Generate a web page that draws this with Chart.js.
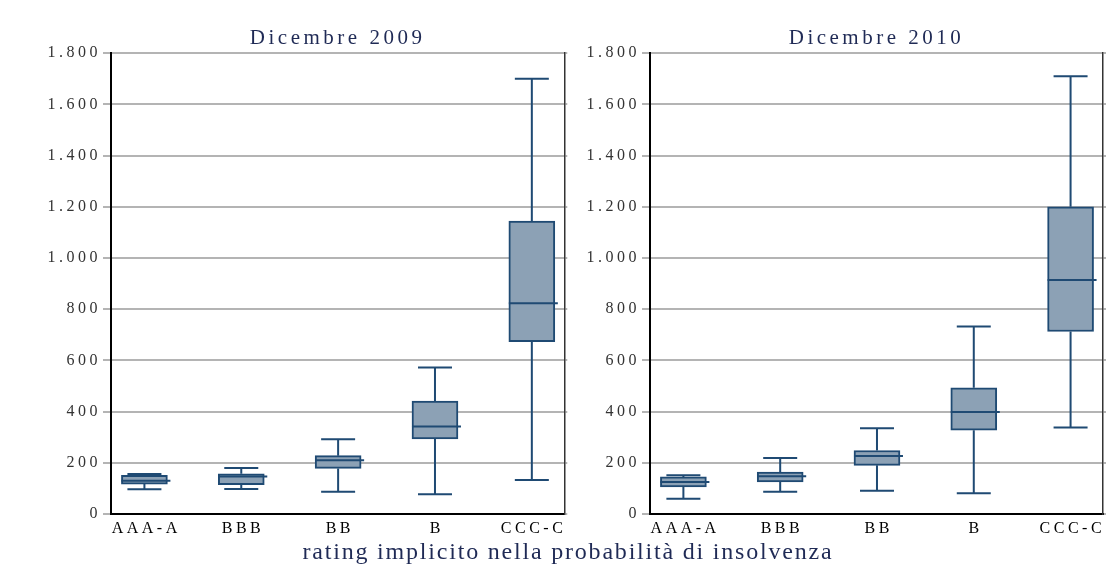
<!DOCTYPE html>
<html>
<head>
<meta charset="utf-8">
<script src="https://cdn.jsdelivr.net/npm/chart.js@4"></script>
<style>
  body { margin: 0; background: #fff; width: 1110px; height: 570px; position: relative; overflow: hidden; }
  #c1 { position: absolute; left: 0; top: 0; width: 570px; height: 545px; }
  #c2 { position: absolute; left: 570px; top: 0; width: 540px; height: 545px; }
  #xtitle {
    position: absolute; left: 0; top: 539px; width: 1136px; text-align: center;
    font: 24px/1 "Liberation Serif", "Times New Roman", serif; letter-spacing: 1.8px;
    color: #1f2a55; white-space: nowrap;
  }
</style>
</head>
<body>
<canvas id="c1" width="570" height="545"></canvas>
<canvas id="c2" width="540" height="545"></canvas>
<div id="xtitle">rating implicito nella probabilità di insolvenza</div>
<script>
// categories and tick labels
const categories = ["AAA-A", "BBB", "BB", "B", "CCC-C"];
const yTicks = [0, 200, 400, 600, 800, 1000, 1200, 1400, 1600, 1800];
const yTickLabels = ["0", "200", "400", "600", "800", "1.000", "1.200", "1.400", "1.600", "1.800"];

// Dicembre 2009 (whisker low, q1, median, q3, whisker high)
const min2009 = [97, 98, 87, 77, 133];
const q1_2009 = [117, 115, 178, 293, 673];
const med2009 = [130, 146, 210, 342, 823];
const q3_2009 = [151, 157, 228, 441, 1144];
const max2009 = [156, 180, 292, 572, 1700];

// Dicembre 2010
const min2010 = [60, 87, 91, 81, 338];
const q1_2010 = [106, 125, 190, 327, 713];
const med2010 = [125, 147, 227, 398, 914];
const q3_2010 = [145, 164, 248, 493, 1200];
const max2010 = [151, 219, 335, 732, 1710];

const navy = "#1f4a73";
const boxFill = "#8ca1b5";
const gridGray = "#b4b4b4";
const serif = "'Liberation Serif', 'Times New Roman', serif";

function makeChart(id, title, lo, q1, med, q3, hi, leftW, rightW) {
  // whiskers, caps and medians drawn through the chart's own scales
  const boxPlot = {
    id: "boxPlot",
    beforeUpdate(chart) { chart.ctx.letterSpacing = "3.5px"; },
    beforeDraw(chart) { chart.ctx.letterSpacing = "3.5px"; },
    beforeDatasetsDraw(chart) {
      const { ctx, scales: { x, y } } = chart;
      ctx.save();
      ctx.strokeStyle = navy;
      ctx.lineWidth = 2;
      categories.forEach((c, i) => {
        const cx = x.getPixelForValue(i);
        const yLo = y.getPixelForValue(lo[i]);
        const yHi = y.getPixelForValue(hi[i]);
        ctx.beginPath();
        ctx.moveTo(cx, y.getPixelForValue(q1[i]));
        ctx.lineTo(cx, yLo);
        ctx.moveTo(cx, y.getPixelForValue(q3[i]));
        ctx.lineTo(cx, yHi);
        ctx.moveTo(cx - 17, yLo);
        ctx.lineTo(cx + 17, yLo);
        ctx.moveTo(cx - 17, yHi);
        ctx.lineTo(cx + 17, yHi);
        ctx.stroke();
      });
      ctx.restore();
    },
    afterDatasetsDraw(chart) {
      const { ctx, scales: { x, y } } = chart;
      ctx.save();
      ctx.strokeStyle = navy;
      ctx.lineWidth = 2;
      categories.forEach((c, i) => {
        const cx = x.getPixelForValue(i);
        const ym = y.getPixelForValue(med[i]);
        ctx.beginPath();
        ctx.moveTo(cx - 23, ym);
        ctx.lineTo(cx + 26, ym);
        ctx.stroke();
      });
      ctx.restore();
    }
  };

  return new Chart(document.getElementById(id), {
    type: "bar",
    data: {
      datasets: [{
        data: categories.map((c, i) => ({ x: i, y: [q1[i], q3[i]] })),
        backgroundColor: boxFill,
        borderColor: navy,
        borderWidth: 2,
        borderSkipped: false,
        barThickness: 46
      }]
    },
    options: {
      responsive: false,
      animation: false,
      events: [],
      layout: { padding: 0 },
      plugins: {
        legend: { display: false },
        tooltip: { enabled: false },
        title: {
          display: true,
          text: title,
          fullSize: false,
          color: "#1f2a55",
          font: { family: serif, size: 21, weight: "normal" },
          padding: { top: 26, bottom: 2 }
        }
      },
      scales: {
        x: {
          type: "linear",
          offset: false,
          min: -0.345,
          max: 4.335,
          afterBuildTicks: s => { s.ticks = categories.map((c, i) => ({ value: i })); },
          afterFit: s => { s.height = 31; },
          grid: { display: false, drawTicks: false },
          border: { display: true, color: "#000", width: 2 },
          ticks: {
            callback: v => categories[v],
            color: "#000",
            font: { family: serif, size: 16 },
            padding: 5,
            labelOffset: 1.75,
            maxRotation: 0,
            autoSkip: false
          }
        },
        y: {
          min: 0,
          max: 1800,
          afterBuildTicks: s => { s.ticks = yTicks.map(v => ({ value: v })); },
          afterFit: s => { s.width = leftW; },
          grid: { color: gridGray, lineWidth: 2, tickLength: 8 },
          border: { display: true, color: "#000", width: 2 },
          ticks: {
            callback: v => yTickLabels[yTicks.indexOf(v)],
            color: "#333",
            font: { family: serif, size: 16 },
            padding: 2
          }
        },
        y2: {
          position: "right",
          min: 0,
          max: 1800,
          afterBuildTicks: s => { s.ticks = yTicks.map(v => ({ value: v })); },
          afterFit: s => { s.width = rightW; },
          grid: { color: gridGray, lineWidth: 2, tickLength: 3, drawOnChartArea: false },
          border: { display: true, color: "#333", width: 1.5 },
          ticks: { display: false }
        }
      }
    },
    plugins: [boxPlot]
  });
}

makeChart("c1", "Dicembre 2009", min2009, q1_2009, med2009, q3_2009, max2009, 111, 5);
makeChart("c2", "Dicembre 2010", min2010, q1_2010, med2010, q3_2010, max2010, 80, 7);
</script>
</body>
</html>
